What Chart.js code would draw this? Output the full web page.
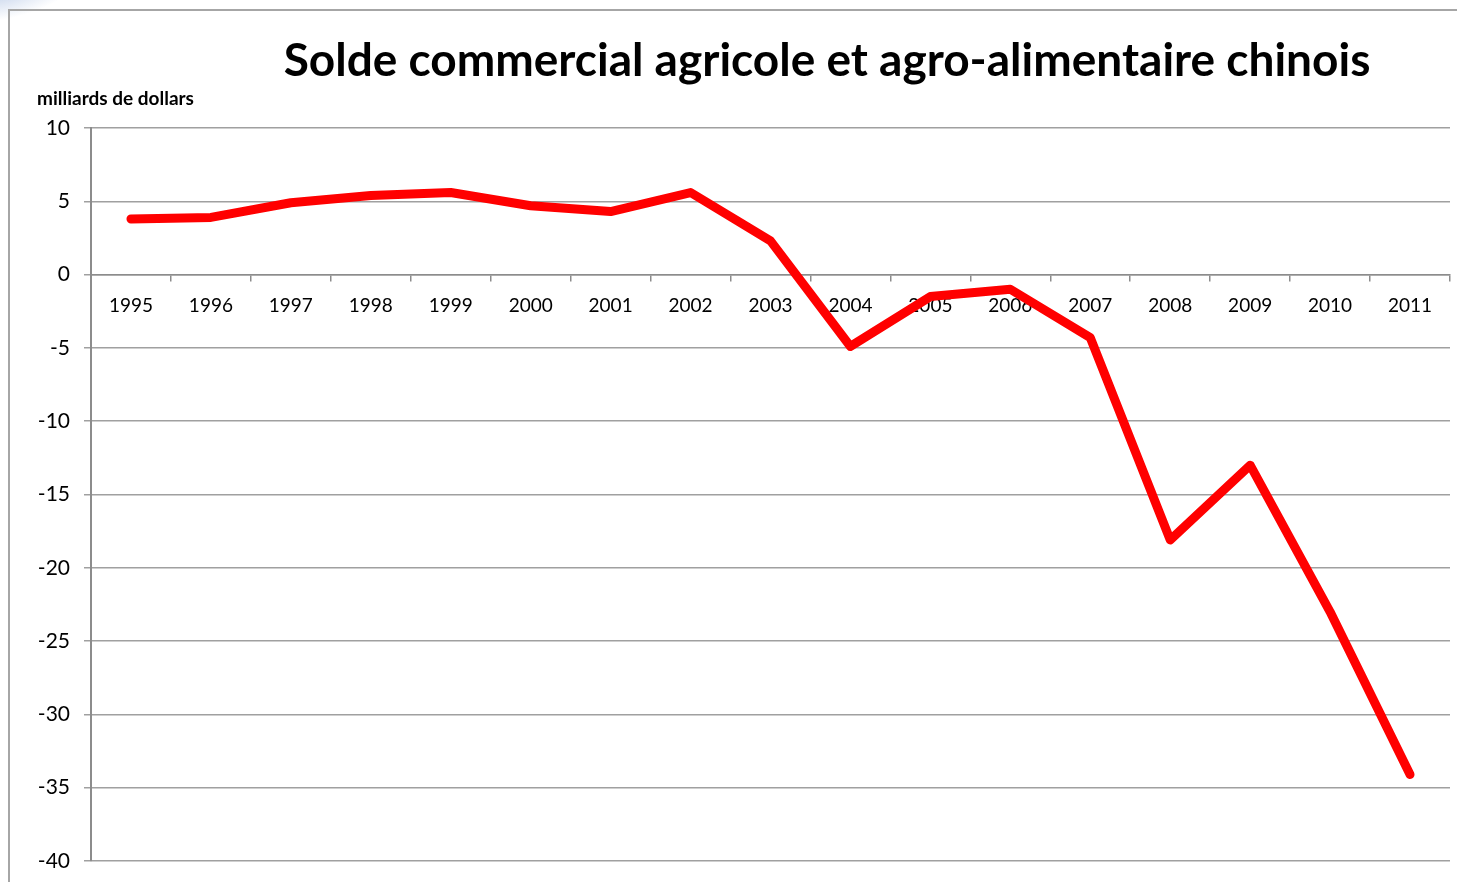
<!DOCTYPE html>
<html>
<head>
<meta charset="utf-8">
<script src="https://cdn.jsdelivr.net/npm/chart.js@4.4.1/dist/chart.umd.min.js"></script>
<style>
  html, body { margin: 0; padding: 0; background: #fff; }
  #wrap { position: relative; width: 1457px; height: 882px; overflow: hidden; }
  #frame { position: absolute; left: 8px; top: 9px; width: 1460px; height: 900px;
           border-left: 2px solid #a6a6a6; border-top: 2px solid #a6a6a6; }
  #glow { position: absolute; left: -30px; top: -30px; width: 110px; height: 45px;
          background: radial-gradient(ellipse at 30% 40%, #c9d6ec 0%, rgba(220,230,245,0) 70%);
          transform: rotate(-12deg); }
  canvas { position: absolute; left: 0; top: 0; }
</style>
</head>
<body>
<div id="wrap">
  <div id="glow"></div>
  <div id="frame"></div>
  <canvas id="chart" width="1457" height="882"></canvas>
</div>
<script>
// DATA
const years = ["1995", "1996", "1997", "1998", "1999", "2000", "2001", "2002", "2003",
               "2004", "2005", "2006", "2007", "2008", "2009", "2010", "2011"];
const balance = [3.8, 3.9, 4.9, 5.4, 5.6, 4.7, 4.3, 5.6, 2.3,
                 -4.9, -1.5, -1.0, -4.3, -18.1, -13.0, -23.0, -34.1];
const yMin = -40;
const yMax = 10;
const yStep = 5;

const titleText = "Solde commercial agricole et agro-alimentaire chinois";
const unitText = "milliards de dollars";

const FONT = "Lato, 'Open Sans', sans-serif";

// title + unit label
const headerPlugin = {
  id: "header",
  afterDraw(chart) {
    const ctx = chart.ctx;
    ctx.save();
    ctx.fillStyle = "#000";
    ctx.textBaseline = "middle";
    ctx.textAlign = "center";
    ctx.font = "bold 46px " + FONT;
    ctx.fillText(titleText, 827, 61);
    ctx.textAlign = "left";
    ctx.font = "bold 19px " + FONT;
    ctx.fillText(unitText, 37, 99);
    ctx.restore();
  }
};

const ctx = document.getElementById("chart").getContext("2d");
const chart = new Chart(ctx, {
  type: "line",
  data: {
    labels: years,
    datasets: [{
      label: "Solde",
      data: balance,
      borderColor: "#ff0000",
      borderWidth: 9,
      borderCapStyle: "round",
      borderJoinStyle: "round",
      pointRadius: 0,
      tension: 0,
      fill: false
    }]
  },
  options: {
    responsive: false,
    animation: false,
    layout: { padding: { top: 128, bottom: 21, right: 7, left: 0 } },
    plugins: {
      legend: { display: false },
      tooltip: { enabled: false }
    },
    scales: {
      x: {
        type: "category",
        position: { y: 0 },
        offset: true,
        grid: {
          offset: true,
          drawOnChartArea: false,
          drawTicks: true,
          tickLength: 6,
          color: "#8c8c8c",
          lineWidth: 1.5
        },
        border: { display: true, color: "#8c8c8c", width: 1.5 },
        ticks: {
          color: "#000",
          font: { family: FONT, size: 19 },
          padding: 14,
          maxRotation: 0,
          autoSkip: false
        }
      },
      y: {
        min: yMin,
        max: yMax,
        afterFit(scale) {
          scale.width = 91;
          scale.paddingTop = 0;
          scale.paddingBottom = 0;
        },
        grid: {
          color: "#a0a0a0",
          lineWidth: 1.5,
          drawTicks: true,
          tickLength: 7
        },
        border: { display: true, color: "#8c8c8c", width: 2 },
        ticks: {
          stepSize: yStep,
          color: "#000",
          font: { family: FONT, size: 21 },
          padding: 14
        }
      }
    }
  },
  plugins: [headerPlugin]
});
</script>
</body>
</html>
